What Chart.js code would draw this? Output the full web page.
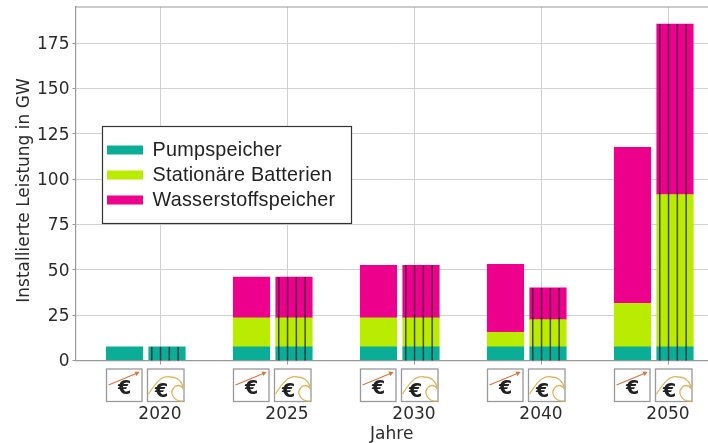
<!DOCTYPE html>
<html><head><meta charset="utf-8">
<style>html,body{margin:0;padding:0;background:#fff;overflow:hidden}#w{position:absolute;left:0;top:0;width:708px;height:443px}canvas{filter:blur(0.35px)}</style>
<script src="https://cdn.jsdelivr.net/npm/chart.js@4"></script>
</head><body><div id="w"><canvas id="c" width="708" height="443"></canvas></div>
<script>
const years = ['2020','2025','2030','2040','2050'];
const seriesNames = ['Pumpspeicher','Stationäre Batterien','Wasserstoffspeicher'];
const pumpLeft = [7.5,7.5,7.5,7.5,7.5];
const batteryLeft = [0,16,16,8,24];
const hydrogenLeft = [0,22.5,29,37.5,86];
const pumpRight = [7.5,7.5,7.5,7.5,7.5];
const batteryRight = [0,16,16,15,84];
const hydrogenRight = [0,22.5,29,17.5,94];
const yTicks = [0,25,50,75,100,125,150,175];
const colors = ['#0aae96','#b9ec00','#ec008c'];
const yTitle = 'Installierte Leistung in GW';

const LEFT_OFF = -35.5/127, RIGHT_OFF = 7/127;
const join = (l,r) => years.flatMap((_,i)=>[{x:i+LEFT_OFF,y:l[i]||null},{x:i+RIGHT_OFF,y:r[i]||null}]);
const mk = (i,l,r)=>({label:seriesNames[i],data:join(l,r),backgroundColor:colors[i],borderWidth:0,barThickness:36.5,stack:'s'});

const nudge = {id:'nudge',beforeDraw(ch){
  ch.scales.y.getLabelItems(ch.chartArea).forEach(it=>{it.options.translation[1]+=1.5;});
}};
const frameTop = {id:'frameTop',beforeDatasetsDraw(ch){
  const {ctx,chartArea:a}=ch; ctx.save();ctx.strokeStyle='#999';ctx.lineWidth=1.2;
  ctx.beginPath();ctx.moveTo(a.left,a.top);ctx.lineTo(a.right,a.top);ctx.stroke();ctx.restore();
}};
const hatch = {id:'hatch',afterDatasetsDraw(ch){
  const {ctx} = ch, y0 = ch.scales.y.getPixelForValue(0);
  const metas = [0,1,2].map(i=>ch.getDatasetMeta(i).data);
  ctx.save();ctx.strokeStyle='rgba(40,20,50,0.75)';ctx.lineWidth=1.5;
  metas[0].forEach((b,k)=>{ if(k%2===0) return;
    const top=Math.min(...metas.map(m=>m[k].y).filter(Number.isFinite));
    const L=b.x-b.width/2;
    for(let j=0;j<4;j++){const x=L+3+j*8.8;ctx.beginPath();ctx.moveTo(x,top);ctx.lineTo(x,y0);ctx.stroke();}
  });
  ctx.restore();
}};
const icons = {id:'icons',afterDraw(ch){
  const {ctx,scales:{x:xs}} = ch; const top=369, h=32.5;
  ctx.save();
  ctx.save();ctx.translate(24.5,190.5);ctx.rotate(-Math.PI/2);ctx.font='17px "DejaVu Sans"';ctx.fillStyle='#2b2b2b';ctx.textAlign='center';ctx.textBaseline='middle';ctx.fillText(yTitle,0,0);ctx.restore();
  years.forEach((_,i)=>{
    const c=xs.getPixelForValue(i);
    let X=c-53.5,w=35.5;
    ctx.strokeStyle='#999';ctx.lineWidth=1.3;ctx.fillStyle='#fff';
    ctx.fillRect(X,top,w,h);ctx.strokeRect(X,top,w,h);
    ctx.strokeStyle='#d9743a';ctx.lineWidth=1.1;ctx.fillStyle='#d9743a';
    ctx.beginPath();ctx.moveTo(X+2,top+16);ctx.lineTo(X+31,top+4);ctx.stroke();
    ctx.beginPath();ctx.moveTo(X+33,top+3);ctx.lineTo(X+28,top+2.5);ctx.lineTo(X+30,top+7);ctx.fill();
    ctx.fillStyle='#222';ctx.font='bold 19px "DejaVu Sans"';ctx.textAlign='center';ctx.textBaseline='middle';
    ctx.fillText('€',X+18,top+20);
    X=c-12.5;w=36.5;
    ctx.strokeStyle='#999';ctx.lineWidth=1.3;ctx.fillStyle='#fff';
    ctx.fillRect(X,top,w,h);ctx.strokeRect(X,top,w,h);
    ctx.strokeStyle='#dcb55c';ctx.lineWidth=1.3;
    ctx.beginPath();ctx.moveTo(X+1,top+25);ctx.bezierCurveTo(X+8,top+14,X+14,top+6,X+23,top+8);
    ctx.bezierCurveTo(X+30,top+8,X+35,top+13,X+36,top+20);ctx.stroke();
    ctx.beginPath();ctx.moveTo(X+36,top+32);ctx.bezierCurveTo(X+26,top+33,X+22,top+24,X+26,top+19);
    ctx.bezierCurveTo(X+28,top+16,X+33,top+15,X+36,top+20);ctx.stroke();
    ctx.fillStyle='#222';ctx.fillText('€',X+14,top+23);
  });
  ctx.restore();
}};
const legendBox = {id:'legendBox',afterDraw(ch){
  const {ctx}=ch; ctx.save();
  ctx.fillStyle='#fff';ctx.fillRect(102.5,126.5,249,97);
  ctx.strokeStyle='#333';ctx.lineWidth=1.2;ctx.strokeRect(102.5,126.5,249,97);
  ctx.font='19.8px "Liberation Sans"';ctx.letterSpacing='0.25px';ctx.textAlign='left';ctx.textBaseline='middle';
  ch.data.datasets.forEach((d,i)=>{
    const y=150+i*25;
    ctx.fillStyle=d.backgroundColor;ctx.fillRect(107,y-4.5,36,9);
    ctx.fillStyle='#222';ctx.fillText(d.label,152.5,y+1);
  });
  ctx.restore();
}};
new Chart(document.getElementById('c'),{
  type:'bar',
  data:{datasets:[mk(0,pumpLeft,pumpRight),mk(1,batteryLeft,batteryRight),mk(2,hydrogenLeft,hydrogenRight)]},
  plugins:[nudge,frameTop,hatch,icons,legendBox],
  options:{
    responsive:false,animation:false,
    layout:{padding:{top:7,right:0,left:0,bottom:0}},
    plugins:{legend:{display:false},tooltip:{enabled:false}},
    scales:{
      x:{type:'linear',stacked:true,offset:false,min:-84.5/127,max:(708-160)/127,
        afterBuildTicks(s){s.ticks=years.map((_,i)=>({value:i}));},
        afterFit(s){s.height=82.5;s.paddingLeft=0;s.paddingRight=0;},
        grid:{offset:false,color:'#cfcfcf',lineWidth:1,tickLength:4,tickColor:'#999'},
        border:{color:'#999',width:1.2},
        ticks:{autoSkip:false,maxRotation:0,padding:40,color:'#2b2b2b',font:{family:'DejaVu Sans',size:17},callback:(v)=>years[v]},
        title:{display:true,text:'Jahre',color:'#2b2b2b',font:{family:'DejaVu Sans',size:17},padding:{top:0,bottom:-2}}
      },
      y:{stacked:true,min:0,max:194.9,
        afterBuildTicks(s){s.ticks=yTicks.map(v=>({value:v}));},
        afterFit(s){s.width=75.5;s.paddingTop=0;s.paddingBottom=0;},
        grid:{color:'#d2d2d2',lineWidth:1,tickLength:3,tickColor:'#999'},
        border:{color:'#999',width:1.2},
        ticks:{padding:3,color:'#2b2b2b',font:{family:'DejaVu Sans',size:17}}
      }
    }
  }
});
</script></body></html>
